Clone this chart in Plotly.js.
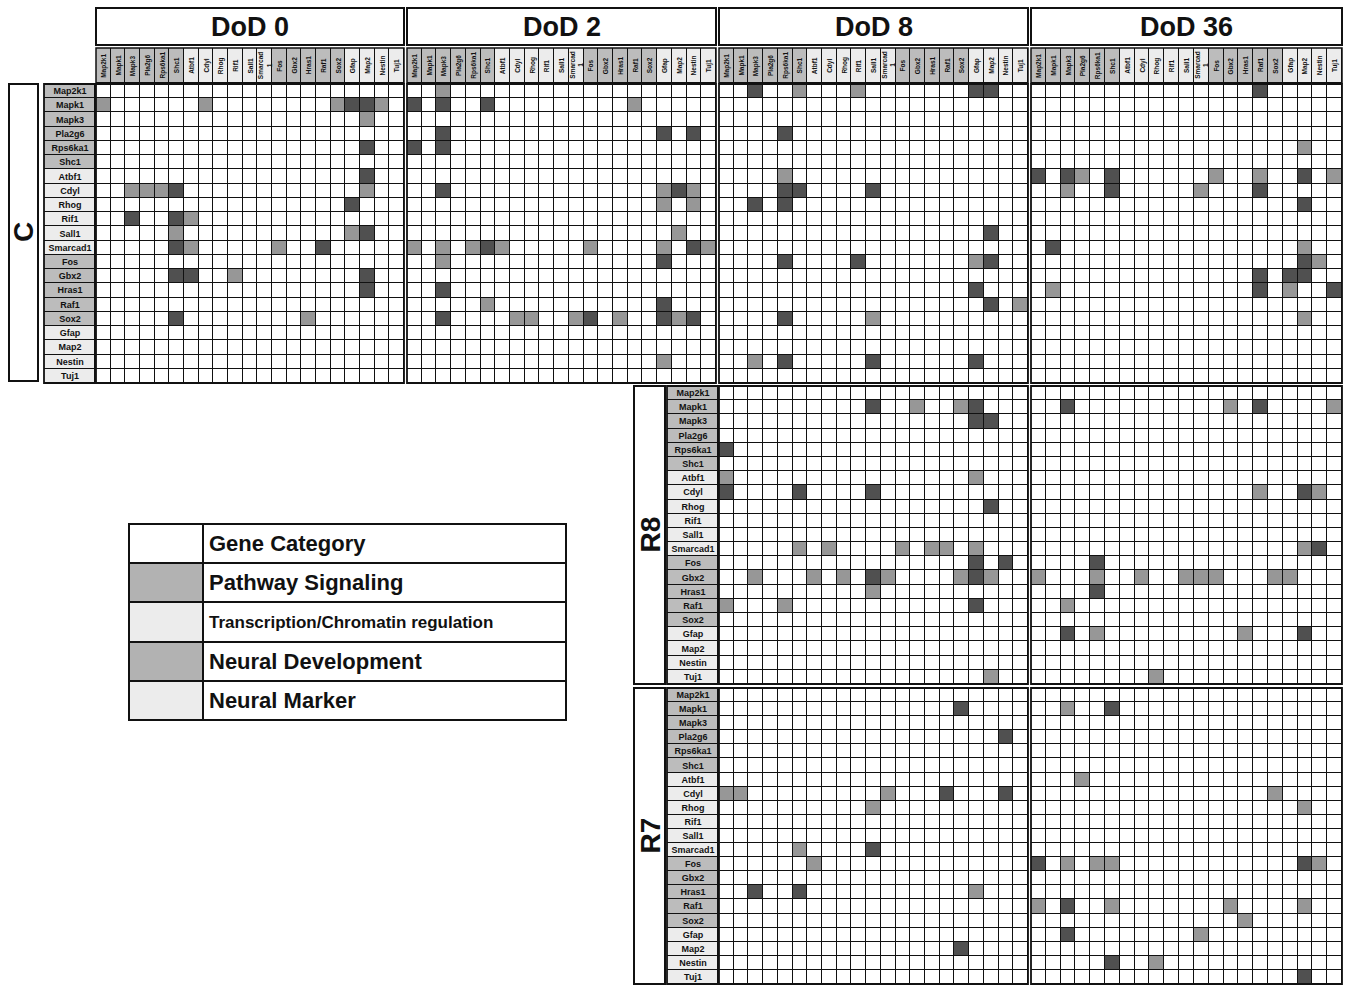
<!DOCTYPE html>
<html>
<head>
<meta charset="utf-8">
<script src="https://cdn.plot.ly/plotly-3.0.1.min.js"></script>
<style>html,body{margin:0;padding:0;background:#fff}#chart{width:1353px;height:985px}</style>
</head>
<body>
<div id="chart"></div>
<script>
// ---------------- DATA ----------------
const genes = ['Map2k1','Mapk1','Mapk3','Pla2g6','Rps6ka1','Shc1','Atbf1','Cdyl','Rhog','Rif1','Sall1',
               'Smarcad1','Fos','Gbx2','Hras1','Raf1','Sox2','Gfap','Map2','Nestin','Tuj1'];
const headerLabels = ['Map2k1','Mapk1','Mapk3','Pla2g6','Rps6ka1','Shc1','Atbf1','Cdyl','Rhog','Rif1','Sall1',
               'Smarcad<br>1','Fos','Gbx2','Hras1','Raf1','Sox2','Gfap','Map2','Nestin','Tuj1'];
// gene category: 1 Pathway Signaling, 2 Transcription/Chromatin regulation, 3 Neural Development, 4 Neural Marker
const geneCategory = [1,1,1,1,1,1,2,2,2,2,2,2,1,3,1,1,3,4,4,4,4];
const dayLabels = ['DoD 0','DoD 2','DoD 8','DoD 36'];
const groupLabels = ['C','R8','R7'];
const legendLabels = ['Gene Category','Pathway Signaling','Transcription/Chromatin regulation','Neural Development','Neural Marker'];
const legendCodes = [0,1,2,3,4];

// filled cells: [row gene, column gene, level] level 1 = medium, 2 = dark
const C_DoD0 = [
 ['Mapk1','Map2k1',1],['Mapk1','Cdyl',1],['Mapk1','Sox2',1],['Mapk1','Gfap',2],['Mapk1','Map2',2],['Mapk1','Nestin',1],
 ['Mapk3','Map2',1],['Rps6ka1','Map2',2],['Atbf1','Map2',2],
 ['Cdyl','Mapk3',1],['Cdyl','Pla2g6',1],['Cdyl','Rps6ka1',1],['Cdyl','Shc1',2],['Cdyl','Map2',1],
 ['Rhog','Gfap',2],
 ['Rif1','Mapk3',2],['Rif1','Shc1',2],['Rif1','Atbf1',1],
 ['Sall1','Shc1',1],['Sall1','Gfap',1],['Sall1','Map2',2],
 ['Smarcad1','Shc1',2],['Smarcad1','Atbf1',1],['Smarcad1','Fos',1],['Smarcad1','Raf1',2],
 ['Gbx2','Shc1',2],['Gbx2','Atbf1',2],['Gbx2','Rif1',1],['Gbx2','Map2',2],
 ['Hras1','Map2',2],
 ['Sox2','Shc1',2],['Sox2','Hras1',1]
];
const C_DoD2 = [
 ['Map2k1','Mapk3',1],
 ['Mapk1','Map2k1',2],['Mapk1','Mapk3',2],['Mapk1','Shc1',2],['Mapk1','Raf1',1],
 ['Pla2g6','Mapk3',2],['Pla2g6','Gfap',2],['Pla2g6','Nestin',2],
 ['Rps6ka1','Map2k1',2],['Rps6ka1','Mapk3',2],
 ['Cdyl','Mapk3',2],['Cdyl','Gfap',1],['Cdyl','Map2',2],['Cdyl','Nestin',1],
 ['Rhog','Gfap',1],['Rhog','Nestin',1],
 ['Sall1','Map2',1],
 ['Smarcad1','Map2k1',1],['Smarcad1','Mapk3',1],['Smarcad1','Rps6ka1',1],['Smarcad1','Shc1',2],['Smarcad1','Atbf1',1],
 ['Smarcad1','Fos',1],['Smarcad1','Gfap',1],['Smarcad1','Nestin',2],['Smarcad1','Tuj1',1],
 ['Fos','Mapk3',1],['Fos','Gfap',2],
 ['Hras1','Mapk3',2],
 ['Raf1','Shc1',1],['Raf1','Gfap',2],
 ['Sox2','Mapk3',2],['Sox2','Cdyl',1],['Sox2','Rhog',1],['Sox2','Smarcad1',1],['Sox2','Fos',2],['Sox2','Hras1',1],
 ['Sox2','Gfap',2],['Sox2','Map2',1],['Sox2','Nestin',2],
 ['Nestin','Gfap',1]
];
const C_DoD8 = [
 ['Map2k1','Mapk3',2],['Map2k1','Shc1',1],['Map2k1','Rif1',1],['Map2k1','Gfap',2],['Map2k1','Map2',2],
 ['Pla2g6','Rps6ka1',2],
 ['Atbf1','Rps6ka1',1],
 ['Cdyl','Rps6ka1',2],['Cdyl','Shc1',2],['Cdyl','Sall1',2],
 ['Rhog','Mapk3',2],['Rhog','Rps6ka1',2],
 ['Sall1','Map2',2],
 ['Fos','Rps6ka1',2],['Fos','Rif1',2],['Fos','Gfap',1],['Fos','Map2',2],
 ['Hras1','Gfap',2],
 ['Raf1','Map2',2],['Raf1','Tuj1',1],
 ['Sox2','Rps6ka1',2],['Sox2','Sall1',1],
 ['Nestin','Mapk3',1],['Nestin','Rps6ka1',2],['Nestin','Sall1',2],['Nestin','Gfap',2]
];
const C_DoD36 = [
 ['Map2k1','Raf1',2],
 ['Rps6ka1','Map2',1],
 ['Atbf1','Map2k1',2],['Atbf1','Mapk3',2],['Atbf1','Pla2g6',1],['Atbf1','Shc1',2],['Atbf1','Fos',1],['Atbf1','Raf1',1],
 ['Atbf1','Map2',2],['Atbf1','Tuj1',1],
 ['Cdyl','Mapk3',1],['Cdyl','Shc1',2],['Cdyl','Smarcad1',1],['Cdyl','Raf1',2],
 ['Rhog','Map2',2],
 ['Smarcad1','Mapk1',2],['Smarcad1','Map2',1],
 ['Fos','Map2',2],['Fos','Nestin',1],
 ['Gbx2','Raf1',2],['Gbx2','Gfap',2],['Gbx2','Map2',2],
 ['Hras1','Mapk1',1],['Hras1','Raf1',2],['Hras1','Gfap',1],['Hras1','Tuj1',2],
 ['Sox2','Map2',1]
];
const R8_DoD8 = [
 ['Mapk1','Sall1',2],['Mapk1','Gbx2',1],['Mapk1','Sox2',1],['Mapk1','Gfap',2],
 ['Mapk3','Gfap',2],['Mapk3','Map2',2],
 ['Rps6ka1','Map2k1',2],
 ['Atbf1','Map2k1',1],['Atbf1','Gfap',1],
 ['Cdyl','Map2k1',2],['Cdyl','Shc1',2],['Cdyl','Sall1',2],
 ['Rhog','Map2',2],
 ['Smarcad1','Shc1',1],['Smarcad1','Cdyl',1],['Smarcad1','Fos',1],['Smarcad1','Hras1',1],['Smarcad1','Raf1',1],['Smarcad1','Gfap',1],
 ['Fos','Gfap',2],['Fos','Nestin',2],
 ['Gbx2','Mapk3',1],['Gbx2','Atbf1',1],['Gbx2','Rhog',1],['Gbx2','Sall1',2],['Gbx2','Smarcad1',1],['Gbx2','Sox2',1],
 ['Gbx2','Gfap',2],['Gbx2','Map2',1],
 ['Hras1','Sall1',1],
 ['Raf1','Map2k1',1],['Raf1','Rps6ka1',1],['Raf1','Gfap',2],
 ['Tuj1','Map2',1]
];
const R8_DoD36 = [
 ['Mapk1','Mapk3',2],['Mapk1','Gbx2',1],['Mapk1','Raf1',2],['Mapk1','Tuj1',1],
 ['Cdyl','Raf1',1],['Cdyl','Map2',2],['Cdyl','Nestin',1],
 ['Smarcad1','Map2',1],['Smarcad1','Nestin',2],
 ['Fos','Rps6ka1',2],
 ['Gbx2','Map2k1',1],['Gbx2','Rps6ka1',1],['Gbx2','Cdyl',1],['Gbx2','Sall1',1],['Gbx2','Smarcad1',1],['Gbx2','Fos',1],
 ['Gbx2','Sox2',1],['Gbx2','Gfap',1],
 ['Hras1','Rps6ka1',2],
 ['Raf1','Mapk3',1],
 ['Gfap','Mapk3',2],['Gfap','Rps6ka1',1],['Gfap','Hras1',1],['Gfap','Map2',2],
 ['Tuj1','Rhog',1]
];
const R7_DoD8 = [
 ['Mapk1','Sox2',2],
 ['Pla2g6','Nestin',2],
 ['Cdyl','Map2k1',1],['Cdyl','Mapk1',1],['Cdyl','Smarcad1',1],['Cdyl','Raf1',2],['Cdyl','Nestin',2],
 ['Rhog','Sall1',1],
 ['Smarcad1','Shc1',1],['Smarcad1','Sall1',2],
 ['Fos','Atbf1',1],
 ['Hras1','Mapk3',2],['Hras1','Shc1',2],['Hras1','Gfap',1],
 ['Map2','Sox2',2]
];
const R7_DoD36 = [
 ['Mapk1','Mapk3',1],['Mapk1','Shc1',2],
 ['Atbf1','Pla2g6',1],
 ['Cdyl','Sox2',1],
 ['Rhog','Map2',1],
 ['Fos','Map2k1',2],['Fos','Mapk3',1],['Fos','Rps6ka1',1],['Fos','Shc1',1],['Fos','Map2',2],['Fos','Nestin',1],
 ['Raf1','Map2k1',1],['Raf1','Mapk3',2],['Raf1','Shc1',1],['Raf1','Gbx2',1],['Raf1','Map2',1],
 ['Sox2','Hras1',1],
 ['Gfap','Mapk3',2],['Gfap','Smarcad1',1],
 ['Nestin','Shc1',2],['Nestin','Rhog',1],
 ['Tuj1','Map2',2]
];

// ---------------- BUILD ----------------
const W = 1353, H = 985;
const PX = x => x / W;
const PY = y => 1 - y / H;
const FONT = 'Liberation Sans Narrow, Arial Narrow, Liberation Sans, Arial, sans-serif';
const FONTW = 'Liberation Sans, Arial, sans-serif';

function toMatrix(cells){
  const z = genes.map(() => genes.map(() => 0));
  cells.forEach(([r,c,v]) => { z[genes.indexOf(r)][genes.indexOf(c)] = v; });
  return z;
}
const cellScale = [[0,'#ffffff'],[0.5,'#979797'],[1,'#505050']];
const catScale = [[0,'#bcbcbc'],[1/3,'#ececec'],[2/3,'#bcbcbc'],[1,'#ececec']];

const traces = [];
function matrixTrace(cells, xa, ya){
  return {type:'heatmap', x:genes, y:genes, z:toMatrix(cells), xaxis:xa, yaxis:ya,
    colorscale:cellScale, zmin:0, zmax:2, showscale:false, xgap:1, ygap:1, hoverinfo:'skip'};
}
traces.push(matrixTrace(C_DoD0,'x','y'));
traces.push(matrixTrace(C_DoD2,'x2','y'));
traces.push(matrixTrace(C_DoD8,'x3','y'));
traces.push(matrixTrace(C_DoD36,'x4','y'));
traces.push(matrixTrace(R8_DoD8,'x3','y2'));
traces.push(matrixTrace(R8_DoD36,'x4','y2'));
traces.push(matrixTrace(R7_DoD8,'x3','y3'));
traces.push(matrixTrace(R7_DoD36,'x4','y3'));

// row label columns
function rowLabelTrace(xa, ya){
  return {type:'heatmap', x:['lab'], y:genes, z:geneCategory.map(c=>[c]), text:genes.map(g=>[g]),
    texttemplate:'<b>%{text}</b>', textfont:{family:FONT, size:9, color:'#111'},
    xaxis:xa, yaxis:ya, colorscale:catScale, zmin:1, zmax:4, showscale:false, xgap:1, ygap:1, hoverinfo:'skip'};
}
traces.push(rowLabelTrace('x5','y'));
traces.push(rowLabelTrace('x6','y2'));
traces.push(rowLabelTrace('x6','y3'));

// column header rows
['x','x2','x3','x4'].forEach(xa => {
  traces.push({type:'heatmap', x:genes, y:['hdr'], z:[geneCategory], xaxis:xa, yaxis:'y4',
    colorscale:catScale, zmin:1, zmax:4, showscale:false, xgap:1, ygap:1, hoverinfo:'skip'});
});

// legend table
traces.push({type:'heatmap', x:[0,74,437], y:legendLabels, z:legendCodes.map(c=>[c,0]), xaxis:'x7', yaxis:'y5',
  colorscale:[[0,'#ffffff'],[0.25,'#b2b2b2'],[0.5,'#ececec'],[0.75,'#b2b2b2'],[1,'#ececec']],
  zmin:0, zmax:4, showscale:false, xgap:2, ygap:2, hoverinfo:'skip'});

// ---------------- LAYOUT ----------------
const colPanels = [[96,404],[407,716],[719,1028],[1031,1342]];
const xNames = ['x','x2','x3','x4'];
const shapes = [], annotations = [];

function ax(domain, extra){ return Object.assign({domain, visible:false, fixedrange:true, showgrid:false, zeroline:false}, extra||{}); }

const layout = {
  width:W, height:H, margin:{l:0,r:0,t:0,b:0},
  paper_bgcolor:'#ffffff', plot_bgcolor:'#111111', showlegend:false,
  xaxis: ax([PX(96),PX(404)],{anchor:'y'}),
  xaxis2: ax([PX(407),PX(716)],{anchor:'y'}),
  xaxis3: ax([PX(719),PX(1028)],{anchor:'y'}),
  xaxis4: ax([PX(1031),PX(1342)],{anchor:'y'}),
  xaxis5: ax([PX(44),PX(95)],{anchor:'y'}),
  xaxis6: ax([PX(667),PX(718)],{anchor:'y2'}),
  xaxis7: ax([PX(129),PX(566)],{anchor:'y5', range:[0,437]}),
  yaxis: ax([PY(383),PY(84)],{anchor:'x', autorange:'reversed'}),
  yaxis2: ax([PY(684),PY(386)],{anchor:'x3', autorange:'reversed'}),
  yaxis3: ax([PY(984),PY(688)],{anchor:'x3', autorange:'reversed'}),
  yaxis4: ax([PY(83),PY(48)],{anchor:'x'}),
  yaxis5: ax([PY(720),PY(524)],{anchor:'x7', autorange:'reversed'}),
  shapes, annotations
};

// title boxes + header labels
colPanels.forEach((p,i) => {
  shapes.push({type:'rect', xref:'paper', yref:'paper', x0:PX(p[0]), x1:PX(p[1]), y0:PY(45), y1:PY(8),
    line:{color:'#111', width:2}, fillcolor:'#fff'});
  annotations.push({xref:'paper', yref:'paper', x:PX((p[0]+p[1])/2), y:PY(27), text:'<b>'+dayLabels[i]+'</b>',
    showarrow:false, font:{family:FONTW, size:27, color:'#111'}, xanchor:'center', yanchor:'middle'});
  genes.forEach((g,j) => {
    annotations.push({xref:xNames[i], yref:'paper', x:g, y:PY(65.5), text:'<b>'+headerLabels[j]+'</b>',
      textangle:-90, showarrow:false, font:{family:FONT, size:6.5, color:'#111'}, xanchor:'center', yanchor:'middle'});
  });
  shapes.push({type:'rect', xref:xNames[i]+' domain', yref:'y4 domain', x0:0, x1:1, y0:0, y1:1, line:{color:'#111', width:1.5}});
});

// panel borders
[['x','y'],['x2','y'],['x3','y'],['x4','y'],['x3','y2'],['x4','y2'],['x3','y3'],['x4','y3'],['x5','y'],['x6','y2'],['x6','y3']].forEach(([a,b]) => {
  shapes.push({type:'rect', xref:a+' domain', yref:b+' domain', x0:0, x1:1, y0:0, y1:1, line:{color:'#111', width:1.8}});
});

// group label boxes
const groupBoxes = [[9,38,84,381],[634,665,386,684],[634,665,688,984]];
groupBoxes.forEach((b,i) => {
  shapes.push({type:'rect', xref:'paper', yref:'paper', x0:PX(b[0]), x1:PX(b[1]), y0:PY(b[3]), y1:PY(b[2]),
    line:{color:'#111', width:2}, fillcolor:'#fff'});
  annotations.push({xref:'paper', yref:'paper', x:PX((b[0]+b[1])/2), y:PY((b[2]+b[3])/2), text:'<b>'+groupLabels[i]+'</b>',
    textangle:-90, showarrow:false, font:{family:FONTW, size:28, color:'#111'}, xanchor:'center', yanchor:'middle'});
});

// legend border + texts
shapes.push({type:'rect', xref:'x7 domain', yref:'y5 domain', x0:0, x1:1, y0:0, y1:1, line:{color:'#111', width:2}});
legendLabels.forEach((t,i) => {
  annotations.push({xref:'x7', yref:'y5', x:78, y:t, text:'<b>'+t+'</b>', showarrow:false,
    xanchor:'left', yanchor:'middle', font:{family:FONTW, size: i===2 ? 17 : 22, color:'#111'}});
});

Plotly.newPlot('chart', traces, layout, {staticPlot:true, displayModeBar:false});
</script>
</body>
</html>
